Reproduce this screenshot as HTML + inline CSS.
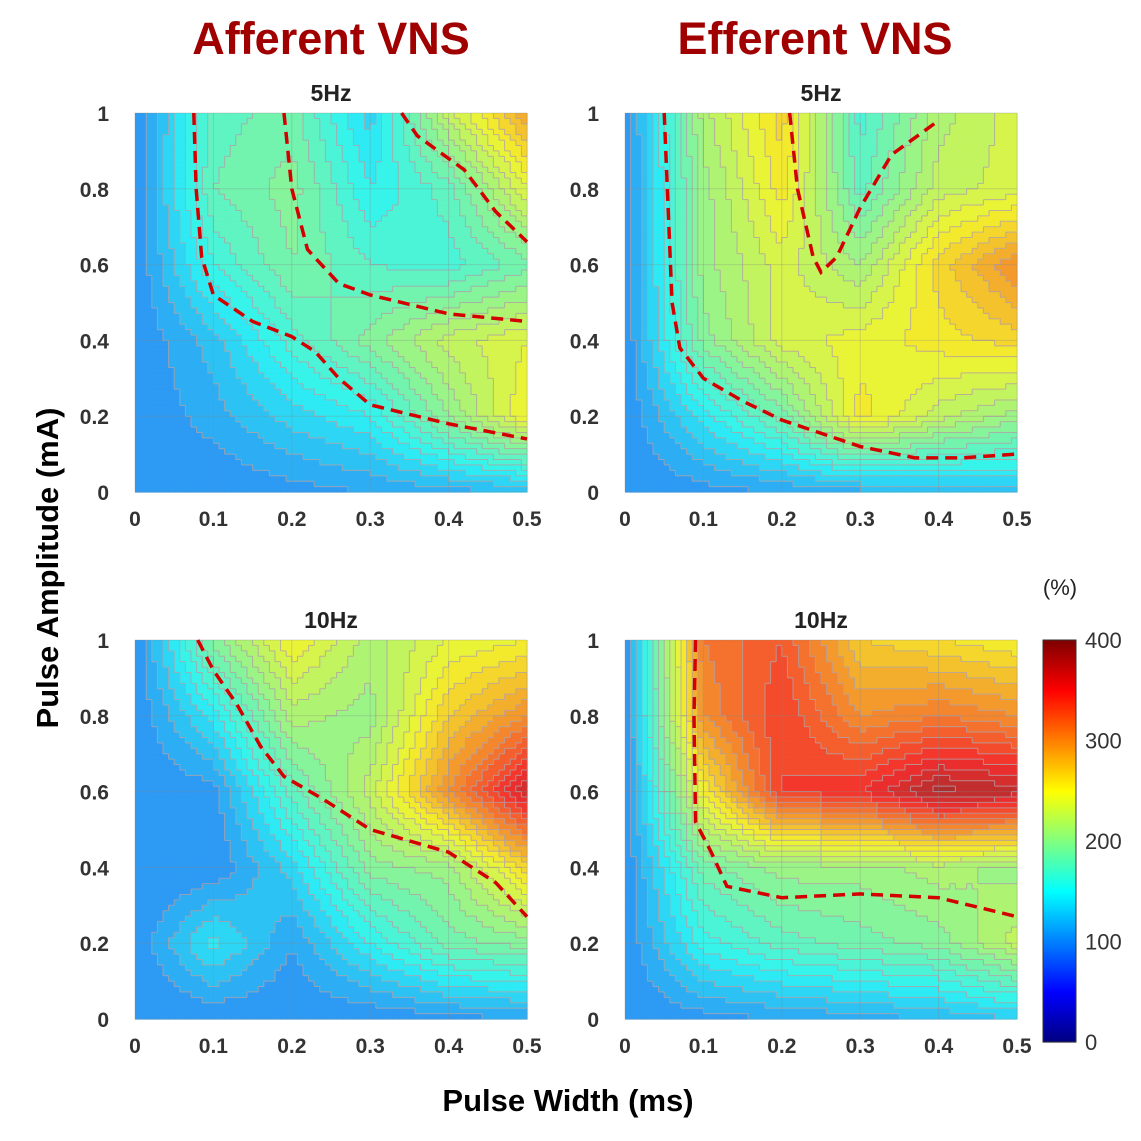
<!DOCTYPE html>
<html><head><meta charset="utf-8">
<style>
body{margin:0;background:#fff;width:1141px;height:1141px;overflow:hidden;font-family:"Liberation Sans",Arial,sans-serif}
svg{position:absolute;left:0;top:0}
</style></head>
<body>
<svg id="chart" width="1141" height="1141"></svg>
<script>
const xs = [0,0.1,0.2,0.3,0.4,0.5];
const ys = [0,0.2,0.4,0.6,0.8,1];
const affer5 = [
 [100,100,105,110,115,120],
 [100,115,135,150,200,250],
 [100,125,165,195,225,240],
 [100,160,190,170,165,185],
 [100,180,195,150,175,240],
 [100,175,185,135,225,290]];
const effer5 = [
 [100,105,110,115,120,125],
 [100,145,185,255,225,205],
 [100,195,235,245,255,265],
 [100,205,235,210,265,300],
 [100,205,255,175,225,235],
 [100,215,265,165,215,235]];
const affer10 = [
 [100,100,100,100,105,110],
 [100,145,110,150,185,195],
 [100,100,135,195,205,265],
 [100,105,175,225,300,370],
 [100,145,215,205,270,300],
 [100,195,250,215,240,250]];
const effer10 = [
 [100,105,110,115,120,130],
 [100,155,175,185,195,225],
 [100,185,205,205,215,205],
 [100,250,340,350,385,375],
 [100,300,340,300,310,300],
 [100,310,330,270,260,250]];
const dashA5a = [[0.075,1],[0.078,0.8],[0.085,0.62],[0.1,0.52],[0.15,0.45],[0.2,0.41],[0.23,0.37],[0.26,0.3],[0.3,0.23],[0.4,0.18],[0.5,0.14]];
const dashA5b = [[0.19,1],[0.2,0.8],[0.22,0.64],[0.26,0.55],[0.3,0.52],[0.4,0.47],[0.5,0.45]];
const dashA5c = [[0.34,1],[0.36,0.94],[0.42,0.85],[0.46,0.74],[0.5,0.66]];
const dashE5a = [[0.05,1],[0.055,0.75],[0.06,0.5],[0.07,0.38],[0.1,0.3],[0.15,0.24],[0.2,0.19],[0.3,0.12],[0.37,0.09],[0.43,0.09],[0.5,0.1]];
const dashE5b = [[0.21,1],[0.22,0.8],[0.24,0.62],[0.25,0.58],[0.27,0.62],[0.3,0.75],[0.34,0.89],[0.4,0.98]];
const dashA10 = [[0.08,1],[0.1,0.92],[0.13,0.83],[0.16,0.72],[0.19,0.64],[0.24,0.58],[0.3,0.5],[0.4,0.44],[0.46,0.36],[0.5,0.27]];
const dashE10 = [[0.09,1],[0.088,0.8],[0.09,0.52],[0.11,0.44],[0.13,0.35],[0.2,0.32],[0.3,0.33],[0.4,0.32],[0.5,0.27]];
const xTicks = [0,0.1,0.2,0.3,0.4,0.5];
const yTicks = [0,0.2,0.4,0.6,0.8,1];
const cbTicks = [0,100,200,300,400];

const NS="http://www.w3.org/2000/svg";
const svg=document.getElementById('chart');
function mk(tag,attrs,parent){const e=document.createElementNS(NS,tag);for(const k in attrs)e.setAttribute(k,attrs[k]);(parent||svg).appendChild(e);return e;}
function jetRaw(v){let t=Math.max(0,Math.min(1,v/400));
 const f=x=>Math.max(0,Math.min(1,x));
 return [f(1.5-Math.abs(4*t-3)),f(1.5-Math.abs(4*t-2)),f(1.5-Math.abs(4*t-1))];}
function jet(v,mute){const c=jetRaw(v);const m=mute?0.22:0;
 return `rgb(${Math.round((c[0]*(1-m)+m*0.8)*255)},${Math.round((c[1]*(1-m)+m*0.8)*255)},${Math.round((c[2]*(1-m)+m*0.8)*255)})`;}
function interp(Z,x,y){
 let i=Math.min(4,Math.floor(x/0.1)),j=Math.min(4,Math.floor(y/0.2));
 const tx=(x-xs[i])/0.1,ty=(y-ys[j])/0.2;
 return Z[j][i]*(1-tx)*(1-ty)+Z[j][i+1]*tx*(1-ty)+Z[j+1][i]*(1-tx)*ty+Z[j+1][i+1]*tx*ty;}
function panel(name,Z,L,T,title,dashes){
 const W=392,H=379;
 const g=mk('g',{});
 
 
 const sx=x=>L+x/0.5*W, sy=y=>T+H-y*H;
 const N=70;
 const lev=[];
 for(let a=0;a<N;a++){lev.push([]);for(let b=0;b<N;b++){
  const x=(a+0.5)/N*0.5,y=(b+0.5)/N;
  const v=Math.floor(interp(Z,x,y)/10);lev[a].push(v);
  const r=mk('rect',{x:sx(a/N*0.5),y:sy((b+1)/N),width:W/N+0.6,height:H/N+0.6,fill:jet(v*10+5,true)},g);
  
  
 }}
 let d='';
 for(let a=0;a<N;a++)for(let b=0;b<N;b++){
  if(a<N-1&&lev[a][b]!==lev[a+1][b]){const x=sx((a+1)/N*0.5);d+=`M${x},${sy((b+1)/N)}V${sy(b/N)}`;}
  if(b<N-1&&lev[a][b]!==lev[a][b+1]){const y=sy((b+1)/N);d+=`M${sx(a/N*0.5)},${y}H${sx((a+1)/N*0.5)}`;}
 }
 const cl=mk('path',{d:d,stroke:'#b0a0a8','stroke-width':1,fill:'none','stroke-opacity':0.8},g);
 
 xTicks.forEach(t=>{mk('line',{x1:sx(t),x2:sx(t),y1:T,y2:T+H,stroke:'#888','stroke-opacity':0.3},g);
  const tx=mk('text',{x:sx(t),y:T+H+34,'text-anchor':'middle','font-size':21,'font-weight':'bold',fill:'#333'},g);tx.textContent=String(t);
  });
 yTicks.forEach(t=>{mk('line',{x1:L,x2:L+W,y1:sy(t),y2:sy(t),stroke:'#888','stroke-opacity':0.3},g);
  const tx=mk('text',{x:L-26,y:sy(t)+8,'text-anchor':'end','font-size':21,'font-weight':'bold',fill:'#333'},g);tx.textContent=String(t);
  });
 dashes.forEach(dd=>{const p=mk('polyline',{points:dd.map(q=>sx(q[0])+','+sy(q[1])).join(' '),fill:'none',stroke:'#d40000','stroke-width':3.5,'stroke-dasharray':'12 7'},g);
  });
 const tt=mk('text',{x:L+W/2,y:T-12,'text-anchor':'middle','font-size':23,'font-weight':'bold',fill:'#222'},g);tt.textContent=title;
 
}
panel('afferent-5hz-panel',affer5,135,113,'5Hz',[dashA5a,dashA5b,dashA5c]);
panel('efferent-5hz-panel',effer5,625,113,'5Hz',[dashE5a,dashE5b]);
panel('afferent-10hz-panel',affer10,135,640,'10Hz',[dashA10]);
panel('efferent-10hz-panel',effer10,625,640,'10Hz',[dashE10]);
const cbL=1043,cbT=640,cbW=33,cbH=402;
const cb=mk('g',{});


for(let k=0;k<200;k++){mk('rect',{x:cbL,y:cbT+cbH-(k+1)*cbH/200,width:cbW,height:cbH/200+0.6,fill:jet((k+0.5)*2,false)},cb);}
mk('rect',{x:cbL,y:cbT,width:cbW,height:cbH,fill:'none',stroke:'#333','stroke-width':1},cb);
cbTicks.forEach(t=>{const y=cbT+cbH-t/400*cbH;
 const tx=mk('text',{x:cbL+cbW+9,y:y+8,'font-size':22,fill:'#333'},cb);tx.textContent=t;
 });
const pc=mk('text',{x:1060,y:595,'text-anchor':'middle','font-size':22,fill:'#222'},cb);pc.textContent='(%)';

function txt(name,s,attrs){const e=mk('text',attrs);e.textContent=s;}
txt('afferent-title','Afferent VNS',{x:331,y:54,'text-anchor':'middle','font-size':45,'font-weight':'bold',fill:'#a00000'});
txt('efferent-title','Efferent VNS',{x:815,y:54,'text-anchor':'middle','font-size':45,'font-weight':'bold',fill:'#a00000'});
txt('x-axis-title','Pulse Width (ms)',{x:568,y:1111,'text-anchor':'middle','font-size':31,'font-weight':'bold',fill:'#000'});
txt('y-axis-title','Pulse Amplitude (mA)',{x:0,y:0,'text-anchor':'middle','font-size':31,'font-weight':'bold',fill:'#000',transform:'translate(58,568) rotate(-90)'});
</script>
</body></html>
